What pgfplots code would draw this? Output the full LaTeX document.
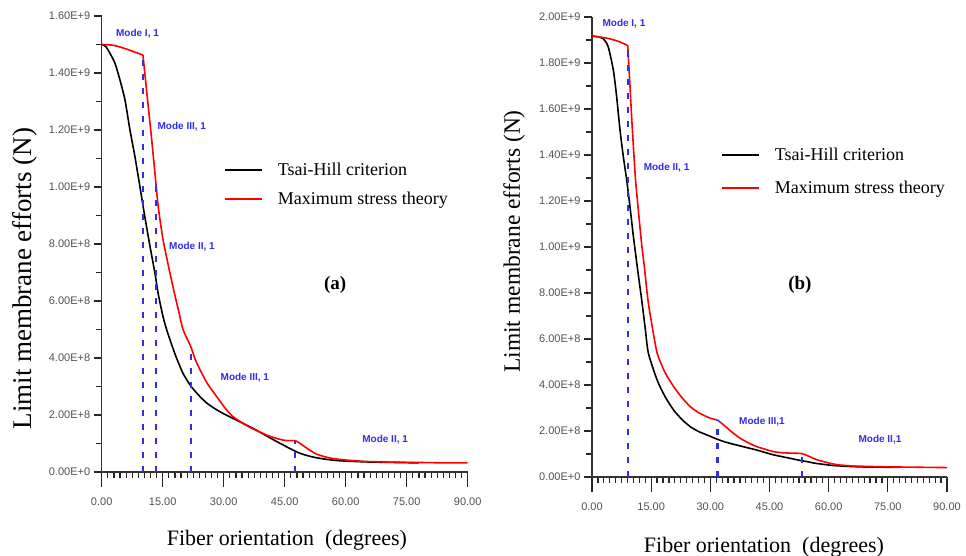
\documentclass[border=0pt]{standalone}
\usepackage{fontspec}
\setmainfont{Liberation Serif}
\newfontfamily\sans{Liberation Sans}
\usepackage{pgfplots}
\pgfplotsset{compat=1.18}
\definecolor{modeblue}{RGB}{45,45,235}
\definecolor{ticktext}{RGB}{85,80,75}

\tikzset{mode/.style={font=\sans\bfseries\fontsize{10}{12}\selectfont, text=modeblue}}
\pgfplotsset{
  panel/.style={
    scale only axis, clip=false,
    axis x line*=bottom, axis y line*=left,
    axis line style={black!80, line width=1.2pt},
    tick style={black!85, line width=1.2pt},
    tick align=outside,
    major tick length=8pt, minor tick length=6pt,
    xmin=0, xmax=90, ymin=0,
    xtick={0,15,30,45,60,75,90},
    xticklabels={0.00,15.00,30.00,45.00,60.00,75.00,90.00},
    minor x tick num=9,
    minor y tick num=1,
    xtick style={/pgfplots/major tick length=15pt},
    xticklabel style={yshift=-14pt},
    scaled y ticks=false,
    tick label style={font=\sans\fontsize{11}{13}\selectfont, text=ticktext},
    legend style={draw=none, fill=none, inner sep=0pt, anchor=north west,
      font=\fontsize{18}{20}\selectfont},
    legend cell align=left,
    legend image code/.code={\draw[#1, line width=1.8pt] (0pt,0pt) -- (37pt,0pt);},
    /tikz/every odd column/.style={column sep=13pt},
    curve/.style={line width=1.6pt, smooth, tension=0.4},
    modeline/.style={modeblue, line width=2.2pt, dash pattern=on 6pt off 8pt, forget plot},
  },
}

\begin{document}
\begin{tikzpicture}
\path[use as bounding box] (0,0) rectangle (966pt,555pt);

% ---------------- (a)
\begin{axis}[panel,
  width=366pt, height=456pt, at={(101.7pt,83pt)}, anchor=south west,
  ymax=1.6e9,
  ytick={0,2e8,4e8,6e8,8e8,1e9,1.2e9,1.4e9,1.6e9},
  yticklabels={0.00E+0,2.00E+8,4.00E+8,6.00E+8,8.00E+8,1.00E+9,1.20E+9,1.40E+9,1.60E+9},
  xlabel={Fiber orientation\ \ (degrees)},
  xlabel style={font=\fontsize{22}{24}\selectfont, at={(axis description cs:0.506,0)}, anchor=base, yshift=-73pt},
  ylabel={Limit membrane efforts (N)},
  ylabel style={font=\fontsize{27}{29}\selectfont, at={(axis description cs:-0.193,0.424)}, anchor=base},
  legend style={at={(axis description cs:0.334,0.682)}, row sep=11pt},
]
\addplot[curve, black] coordinates {
(0,1.500e9)(1,1.493e9)(2.04,1.469e9)(3.27,1.434e9)(4.5,1.375e9)(5.73,1.305e9)
(6.95,1.200e9)(8.18,1.106e9)(9.4,1.001e9)(10.6,0.896e9)(11.9,0.790e9)(13.1,0.697e9)
(13.9,0.625e9)(15,0.550e9)(16,0.498e9)(18,0.415e9)(20,0.346e9)(22,0.300e9)
(24.2,0.264e9)(26,0.240e9)(28.3,0.218e9)(30.3,0.202e9)(32.3,0.188e9)(34.4,0.173e9)
(36.4,0.159e9)(38.5,0.143e9)(40.5,0.127e9)(42.5,0.111e9)(44.6,0.095e9)(46.6,0.080e9)
(48.7,0.066e9)(50.7,0.057e9)(52.8,0.050e9)(55,0.045e9)(58,0.040e9)(62,0.037e9)
(66,0.035e9)(70,0.034e9)(78,0.032e9)};
\addlegendentry{Tsai-Hill criterion}
\addplot[curve, red] coordinates {
(0,1.500e9)(3,1.497e9)(6.1,1.484e9)(8,1.474e9)(10.15,1.463e9)};
\addlegendentry{Maximum stress theory}
\addplot[curve, red, forget plot] coordinates {
(10.15,1.463e9)(10.6,1.399e9)
(11.45,1.282e9)(12.3,1.165e9)(13.1,1.048e9)(13.9,0.931e9)(15.1,0.814e9)(16.8,0.697e9)
(18,0.620e9)(19,0.560e9)(20,0.500e9)(21.9,0.440e9)(23,0.395e9)(24.2,0.358e9)
(26,0.310e9)(28.3,0.264e9)(30.3,0.225e9)(32.3,0.194e9)(34.4,0.174e9)(36.4,0.157e9)
(38.5,0.143e9)(40.5,0.130e9)(42.5,0.120e9)(44.6,0.112e9)(46,0.110e9)(47.6,0.110e9)
(49,0.098e9)(51,0.078e9)(52.8,0.063e9)(55,0.053e9)(57,0.047e9)(60,0.042e9)
(65,0.037e9)(70,0.035e9)(75,0.034e9)(80,0.033e9)(85,0.032e9)(90,0.032e9)};
\addplot[modeline] coordinates {(10.15,0)(10.15,1.463e9)};
\addplot[modeline] coordinates {(13.3,0)(13.3,1.01e9)};
\addplot[modeline] coordinates {(21.9,0)(21.9,0.44e9)};
\addplot[modeline] coordinates {(47.6,0)(47.6,0.11e9)};
\node[mode] at (axis cs:8.8,1.537e9) {Mode I, 1};
\node[mode] at (axis cs:19.7,1.211e9) {Mode III, 1};
\node[mode] at (axis cs:22.2,0.789e9) {Mode II, 1};
\node[mode] at (axis cs:35.2,0.332e9) {Mode III, 1};
\node[mode] at (axis cs:69.7,0.114e9) {Mode II, 1};
\node[font=\bfseries\fontsize{19}{21}\selectfont] at (axis cs:57.4,0.656e9) {(a)};
\end{axis}

% ---------------- (b)
\begin{axis}[panel,
  width=355pt, height=460pt, at={(592pt,78pt)}, anchor=south west,
  ymax=2e9,
  ytick={0,2e8,4e8,6e8,8e8,1e9,1.2e9,1.4e9,1.6e9,1.8e9,2e9},
  yticklabels={0.00E+0,2.00E+8,4.00E+8,6.00E+8,8.00E+8,1.00E+9,1.20E+9,1.40E+9,1.60E+9,1.80E+9,2.00E+9},
  xlabel={Fiber orientation\ \ (degrees)},
  xlabel style={font=\fontsize{22}{24}\selectfont, at={(axis description cs:0.4845,0)}, anchor=base, yshift=-75pt},
  ylabel={Limit membrane efforts (N)},
  ylabel style={font=\fontsize{23.5}{26}\selectfont, at={(axis description cs:-0.203,0.512)}, anchor=base},
  legend style={at={(axis description cs:0.363,0.72)}, row sep=15pt},
]
\addplot[curve, black] coordinates {
(0,1.917e9)(1.5,1.914e9)(2.87,1.905e9)(4.1,1.871e9)(5.4,1.770e9)(6.25,1.653e9)
(7.1,1.509e9)(7.94,1.393e9)(8.8,1.291e9)(9.63,1.175e9)(10.5,1.045e9)(11.5,0.910e9)
(12.6,0.770e9)(13.5,0.645e9)(14.3,0.538e9)(16.5,0.422e9)(18.5,0.350e9)(20.7,0.291e9)
(22.8,0.250e9)(24.9,0.219e9)(27,0.198e9)(29.1,0.183e9)(31.2,0.168e9)(33.4,0.154e9)
(35.5,0.144e9)(37.6,0.135e9)(39.7,0.126e9)(41.8,0.117e9)(44,0.106e9)(46.1,0.096e9)
(48,0.089e9)(50.3,0.081e9)(52.5,0.073e9)(54.5,0.067e9)(56.5,0.060e9)(58.7,0.055e9)
(61,0.050e9)(64,0.047e9)(68,0.044e9)(72,0.043e9)(78,0.042e9)};
\addlegendentry{Tsai-Hill criterion}
\addplot[curve, red] coordinates {
(0,1.917e9)(2,1.913e9)(4.56,1.905e9)(7,1.892e9)(9.05,1.876e9)};
\addlegendentry{Maximum stress theory}
\addplot[curve, red, forget plot] coordinates {
(9.05,1.876e9)(9.5,1.740e9)
(10.2,1.520e9)(11,1.300e9)(11.8,1.150e9)(12.6,1.010e9)(13.3,0.910e9)(14.1,0.780e9)
(15,0.680e9)(16.5,0.540e9)(18.5,0.455e9)(20.7,0.393e9)(22.8,0.345e9)(24.9,0.306e9)
(27,0.280e9)(29.1,0.262e9)(30.5,0.253e9)(31.8,0.248e9)};
\addplot[curve, red, forget plot] coordinates {
(31.8,0.248e9)(33.4,0.226e9)(35.5,0.195e9)
(37.6,0.168e9)(39.7,0.148e9)(41.8,0.132e9)(44,0.120e9)(46.1,0.110e9)(48,0.106e9)
(50,0.104e9)(53.2,0.102e9)(55,0.090e9)(57,0.075e9)(58.7,0.067e9)(61,0.057e9)
(62.9,0.052e9)(66,0.048e9)(70,0.046e9)(75,0.044e9)(80,0.043e9)(85,0.042e9)(90,0.041e9)};
\addplot[modeline] coordinates {(9.05,0)(9.05,1.876e9)};
\addplot[modeline] coordinates {(31.8,0)(31.8,0.248e9)};
\addplot[modeline] coordinates {(53.2,0)(53.2,0.102e9)};
\node[mode] at (axis cs:8.1,1.970e9) {Mode I, 1};
\node[mode] at (axis cs:18.9,1.346e9) {Mode II, 1};
\node[mode] at (axis cs:43.1,0.239e9) {Mode III,1};
\node[mode] at (axis cs:73.0,0.163e9) {Mode II,1};
\node[font=\bfseries\fontsize{19}{21}\selectfont] at (axis cs:52.7,0.835e9) {(b)};
\end{axis}
\end{tikzpicture}
\end{document}
